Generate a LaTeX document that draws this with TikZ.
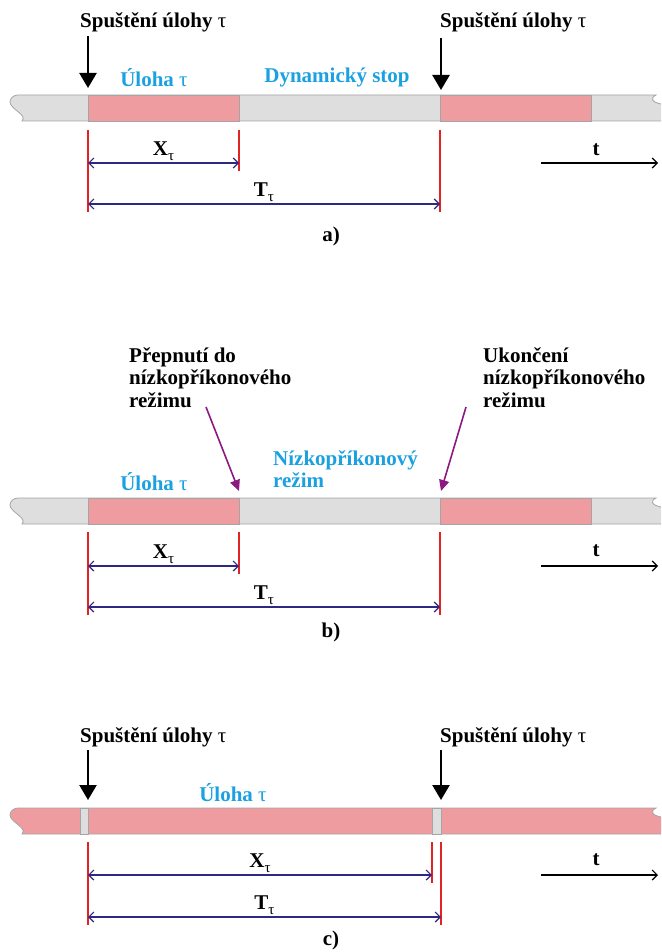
\documentclass[tikz,border=0pt]{standalone}
\usepackage{fontspec}
\setmainfont{Liberation Serif}
\usetikzlibrary{arrows.meta}
\definecolor{pinkc}{RGB}{239,156,161}
\definecolor{greyc}{RGB}{222,222,222}
\definecolor{edgec}{RGB}{165,165,165}
\definecolor{bluec}{RGB}{27,161,226}
\definecolor{navyc}{RGB}{46,40,130}
\definecolor{redc}{RGB}{226,35,35}
\definecolor{purplec}{RGB}{140,25,130}
\newcommand\tauN{{\mdseries τ}}
\newcommand\subT{\raisebox{-5pt}{\fontsize{15}{15}\selectfont\mdseries τ}}
\newcommand\barshape[2]{%
  \begin{scope}
  \clip (0,0) rectangle (661,952);
  \filldraw[fill=#2, draw=edgec, line width=0.8pt]
    (18,#1) -- (656,#1) .. controls (650,#1+3) and (650,#1+8) .. (667,#1+10)
    -- (667,#1+26) -- (22,#1+26)
    .. controls (28,#1+20) and (10,#1+14) .. (10,#1+7)
    .. controls (10,#1+3) and (14,#1) .. (18,#1) -- cycle;
  \end{scope}}
\tikzset{
  lbl/.style={font=\fontsize{21}{22.5}\selectfont\bfseries, text=black, inner sep=0pt},
  blbl/.style={lbl, text=bluec},
  seg/.style={draw=edgec, line width=0.8pt},
  redln/.style={draw=redc, line width=1.4pt},
  dim/.style={draw=navyc, line width=1.2pt, {Straight Barb[length=5pt,width=10pt]}-{Straight Barb[length=5pt,width=10pt]}},
  taxis/.style={draw=black, line width=1.2pt, -{Straight Barb[length=5pt,width=10pt]}},
  bigarr/.style={draw=black, line width=2.4pt, -{Triangle[length=15pt,width=17pt]}},
  purarr/.style={draw=purplec, line width=1.6pt, -{Triangle[length=11pt,width=10pt]}},
}
\begin{document}
\begin{tikzpicture}[x=1pt,y=-1pt]
\useasboundingbox (0,0) rectangle (661,952);
\fill[white] (0,0) rectangle (661,952);

% ================= a) =================
\node[lbl, anchor=base west] (sa1) at (80,28) {Spuštění úlohy \tauN};
\node[lbl, anchor=base west] (sa2) at (440,28) {Spuštění úlohy \tauN};
\coordinate (a1s) at (88,36); \coordinate (a1e) at (88,88);
\coordinate (a2s) at (441,38); \coordinate (a2e) at (441,90);
\draw[bigarr] (a1s) -- (a1e);
\draw[bigarr] (a2s) -- (a2e);
\barshape{95}{greyc}
\filldraw[fill=pinkc, seg] (88,95) rectangle (239,121);
\filldraw[fill=pinkc, seg] (440,95) rectangle (591,121);
\node[blbl] (ua) at (154,78) {Úloha \tauN};
\node[blbl] (ds) at (337,77) {Dynamický stop};
\coordinate (ra1t) at (88,130);  \coordinate (ra1b) at (88,212);
\coordinate (ra2t) at (239,130); \coordinate (ra2b) at (239,171);
\coordinate (ra3t) at (440,130); \coordinate (ra3b) at (440,212);
\draw[redln] (ra1t) -- (ra1b);
\draw[redln] (ra2t) -- (ra2b);
\draw[redln] (ra3t) -- (ra3b);
\coordinate (xa1) at (88,163); \coordinate (xa2) at (239,163);
\coordinate (ta1) at (88,204); \coordinate (ta2) at (440,204);
\draw[dim] (xa1) -- node[lbl, above=1.5pt] (xla) {X\subT} (xa2);
\draw[dim] (ta1) -- node[lbl, above=1.5pt] (tla) {T\subT} (ta2);
\coordinate (tsa) at (541,163); \coordinate (tea) at (658,163);
\draw[taxis] (tsa) -- (tea);
\node[lbl] (ttla) at (596,150) {t};
\node[lbl] (capa) at (331,236) {a)};

% ================= b) =================
\node[lbl, anchor=north west, align=left] (pb1) at (129,347) {Přepnutí do\\nízkopříkonového\\režimu};
\node[lbl, anchor=north west, align=left] (pb2) at (483,347) {Ukončení\\nízkopříkonového\\režimu};
\coordinate (p1s) at (206,407); \coordinate (p1e) at (239,491);
\coordinate (p2s) at (466,407); \coordinate (p2e) at (441,491);
\draw[purarr] (p1s) -- (p1e);
\draw[purarr] (p2s) -- (p2e);
\barshape{498}{greyc}
\filldraw[fill=pinkc, seg] (88,498) rectangle (239,524);
\filldraw[fill=pinkc, seg] (440,498) rectangle (591,524);
\node[blbl] (ub) at (154,482) {Úloha \tauN};
\node[blbl, anchor=north west, align=left] (nr) at (273,450) {Nízkopříkonový\\režim};
\coordinate (rb1t) at (88,532);  \coordinate (rb1b) at (88,615);
\coordinate (rb2t) at (239,532); \coordinate (rb2b) at (239,574);
\coordinate (rb3t) at (440,532); \coordinate (rb3b) at (440,615);
\draw[redln] (rb1t) -- (rb1b);
\draw[redln] (rb2t) -- (rb2b);
\draw[redln] (rb3t) -- (rb3b);
\coordinate (xb1) at (88,566); \coordinate (xb2) at (239,566);
\coordinate (tb1) at (88,607); \coordinate (tb2) at (440,607);
\draw[dim] (xb1) -- node[lbl, above=1.5pt] (xlb) {X\subT} (xb2);
\draw[dim] (tb1) -- node[lbl, above=1.5pt] (tlb) {T\subT} (tb2);
\coordinate (tsb) at (541,566); \coordinate (teb) at (658,566);
\draw[taxis] (tsb) -- (teb);
\node[lbl] (ttlb) at (596,551) {t};
\node[lbl] (capb) at (331,632) {b)};

% ================= c) =================
\node[lbl, anchor=base west] (sc1) at (80,742) {Spuštění úlohy \tauN};
\node[lbl, anchor=base west] (sc2) at (440,742) {Spuštění úlohy \tauN};
\coordinate (c1s) at (88,750); \coordinate (c1e) at (88,800);
\coordinate (c2s) at (441,750); \coordinate (c2e) at (441,800);
\draw[bigarr] (c1s) -- (c1e);
\draw[bigarr] (c2s) -- (c2e);
\barshape{808}{pinkc}
\filldraw[fill=greyc, seg] (80,808) rectangle (88,834);
\filldraw[fill=greyc, seg] (432,808) rectangle (441,834);
\node[blbl] (uc) at (233,793) {Úloha \tauN};
\coordinate (rc1t) at (88,842);  \coordinate (rc1b) at (88,925);
\coordinate (rc2t) at (432,842); \coordinate (rc2b) at (432,883);
\coordinate (rc3t) at (441,842); \coordinate (rc3b) at (441,925);
\draw[redln] (rc1t) -- (rc1b);
\draw[redln] (rc2t) -- (rc2b);
\draw[redln] (rc3t) -- (rc3b);
\coordinate (xc1) at (88,875); \coordinate (xc2) at (432,875);
\coordinate (tc1) at (88,917); \coordinate (tc2) at (441,917);
\draw[dim] (xc1) -- node[lbl, above=1.5pt] (xlc) {X\subT} (xc2);
\draw[dim] (tc1) -- node[lbl, above=1.5pt] (tlc) {T\subT} (tc2);
\coordinate (tsc) at (541,875); \coordinate (tec) at (658,875);
\draw[taxis] (tsc) -- (tec);
\node[lbl] (ttlc) at (596,860) {t};
\node[lbl] (capc) at (331,940) {c)};
\end{tikzpicture}
\end{document}
